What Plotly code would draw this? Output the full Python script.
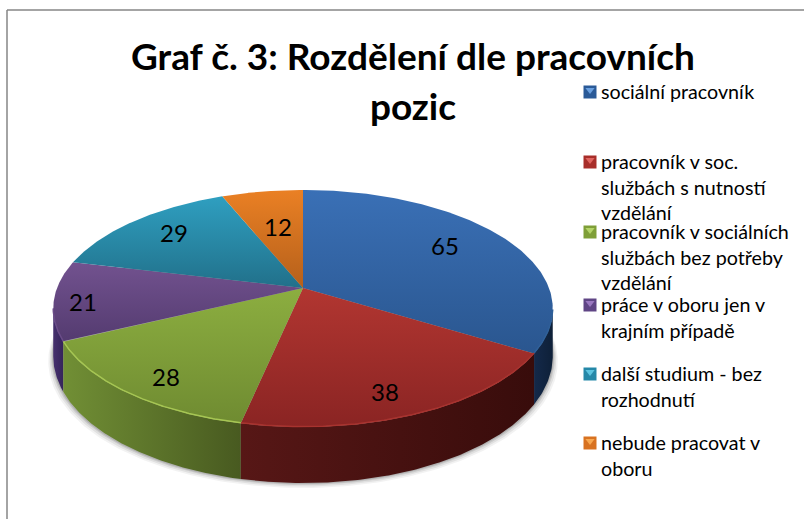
import numpy as np
import plotly.graph_objects as go

# ---- data ----
categories = [
    "sociální pracovník",
    "pracovník v soc.<br>službách s nutností<br>vzdělání",
    "pracovník v sociálních<br>službách bez potřeby<br>vzdělání",
    "práce v oboru jen v<br>krajním případě",
    "další studium - bez<br>rozhodnutí",
    "nebude pracovat v<br>oboru",
]
values = [65, 38, 28, 21, 29, 12]
title_text = "Graf č. 3: Rozdělení dle pracovních<br>pozic"

# ---- style ----
W, H = 804, 519
FONT = "Lato"
top_light = ["#3a70b6", "#b23631", "#8cae40", "#72528f", "#2f9fc0", "#ea8024"]
top_dark = ["#2a568f", "#8a2423", "#6f8b31", "#543b70", "#21708a", "#b5601b"]
side_left = ["#14294a", "#571716", "#718f35", "#46306e", "#1a5468", "#8a4a14"]
side_right = ["#0e2038", "#380c0b", "#485a20", "#35245a", "#1a5468", "#8a4a14"]
edge_light = ["#2f6099", "#a8332f", "#a6c653", "#6a4c88", "#38a8c8", "#f08a30"]
legend_light = ["#6aa0e0", "#e06560", "#b4d468", "#9a78c0", "#5cc4e0", "#f8a850"]
legend_dark = ["#2a5a98", "#a82e2a", "#7f9f38", "#5f4585", "#2588a8", "#d87220"]
legend_tops = [92, 162, 232, 305, 374, 443]
label_pos = [(445, 245), (385, 391), (166, 376), (83, 301), (174, 232), (278, 226)]

# projection of the pie disc
CX, CY = 303, 288
K, A, B = 0.173, 115.0, 246.0
DEPTH_C = 46.3


def proj(theta):
    u, v = np.sin(theta), -np.cos(theta)
    d = 1 - K * v
    return CX + B * u / d, CY + A * v / d, DEPTH_C / d, v


def fill_trace(x, y, gradient=None, color=None, **kw):
    t = dict(x=x, y=y, mode="lines", fill="toself", line=dict(width=0),
             hoverinfo="skip", showlegend=False)
    if gradient is not None:
        t["fillgradient"] = gradient
    if color is not None:
        t["fillcolor"] = color
    t.update(kw)
    return go.Scatter(**t)


total = sum(values)
edges = np.cumsum([0] + values) / total * 2 * np.pi
fig = go.Figure()

# soft shadow under the disc
whole = np.linspace(0, 2 * np.pi, 361)
wx, wy, wd, wv = proj(whole)
for grow, alpha in [(5, 0.05), (3.5, 0.07), (2, 0.10), (1, 0.12)]:
    fig.add_trace(fill_trace(CX + (wx - CX) * (1 + grow / 250), wy + wd + grow,
                             color=f"rgba(0,0,0,{alpha})"))

# side walls (back to front)
order = sorted(range(len(values)), key=lambda i: -abs(((edges[i] + edges[i + 1]) / 2) - np.pi))
for i in order:
    th = np.linspace(edges[i], edges[i + 1], 160)
    x, y, d, v = proj(th)
    keep = v >= K
    if keep.sum() < 2:
        continue
    x, y, d = x[keep], y[keep], d[keep]
    px = np.r_[x, x[::-1], x[0]]
    py = np.r_[y, (y + d)[::-1], y[0]]
    fig.add_trace(fill_trace(px, py, gradient=dict(
        type="horizontal",
        colorscale=[[0, side_left[i]], [1, side_right[i]]])))

# top faces (plotly's vertical gradient runs bottom to top on the screen here)
for i in range(len(values)):
    th = np.linspace(edges[i], edges[i + 1], 160)
    x, y, d, v = proj(th)
    px = np.r_[CX, x, CX]
    py = np.r_[CY, y, CY]
    fig.add_trace(fill_trace(px, py, gradient=dict(
        type="vertical",
        colorscale=[[0, top_dark[i]], [1, top_light[i]]]),
        name=categories[i].replace("<br>", " ")))

# bevel highlight on the front rim
for i in range(len(values)):
    th = np.linspace(edges[i], edges[i + 1], 160)
    x, y, d, v = proj(th)
    keep = v >= K
    if keep.sum() < 2:
        continue
    fig.add_trace(go.Scatter(x=x[keep], y=y[keep] - 0.5, mode="lines",
                             line=dict(color=edge_light[i], width=1.5),
                             hoverinfo="skip", showlegend=False))

# legend keys
LKX = 590
for i, top in enumerate(legend_tops):
    fig.add_trace(go.Scatter(x=[LKX], y=[top], mode="markers",
                             marker=dict(symbol="square", size=13, color=legend_dark[i]),
                             hoverinfo="skip", showlegend=False))
    fig.add_trace(go.Scatter(x=[LKX], y=[top - 2], mode="markers",
                             marker=dict(symbol="triangle-down", size=8, color=legend_light[i]),
                             hoverinfo="skip", showlegend=False))

annotations = []
for val, (lx, ly) in zip(values, label_pos):
    annotations.append(dict(x=lx, y=ly, text=str(val), showarrow=False, xref="x", yref="y",
                            font=dict(family=FONT, size=24, color="#000000")))
for cat, top in zip(categories, legend_tops):
    annotations.append(dict(x=599, y=top - 14, text=cat,
                            showarrow=False, xref="x", yref="y", xanchor="left", yanchor="top",
                            align="left", font=dict(family=FONT, size=19.7, color="#000000")))

shapes = [
    dict(type="line", x0=7, x1=7, y0=10, y1=H, line=dict(color="#868686", width=1.5)),
    dict(type="line", x0=7, x1=W, y0=10, y1=10, line=dict(color="#868686", width=1.5)),
]

fig.update_layout(
    width=W, height=H, margin=dict(l=0, r=0, t=0, b=0),
    paper_bgcolor="white", plot_bgcolor="white", showlegend=False,
    title=dict(text=f'<span style="font-size:37px">{title_text}</span>',
               font=dict(family=FONT, size=38.5, color="#000000", weight="bold"),
               x=413 / W, xanchor="center", y=1 - 70 / H, yanchor="top",
               xref="paper", yref="paper"),
    xaxis=dict(range=[0, W], visible=False, fixedrange=True),
    yaxis=dict(range=[H, 0], visible=False, fixedrange=True),
    annotations=annotations, shapes=shapes,
)
fig.write_html("out.html", config={"displayModeBar": False},
               post_script="document.body.style.margin='0';")
